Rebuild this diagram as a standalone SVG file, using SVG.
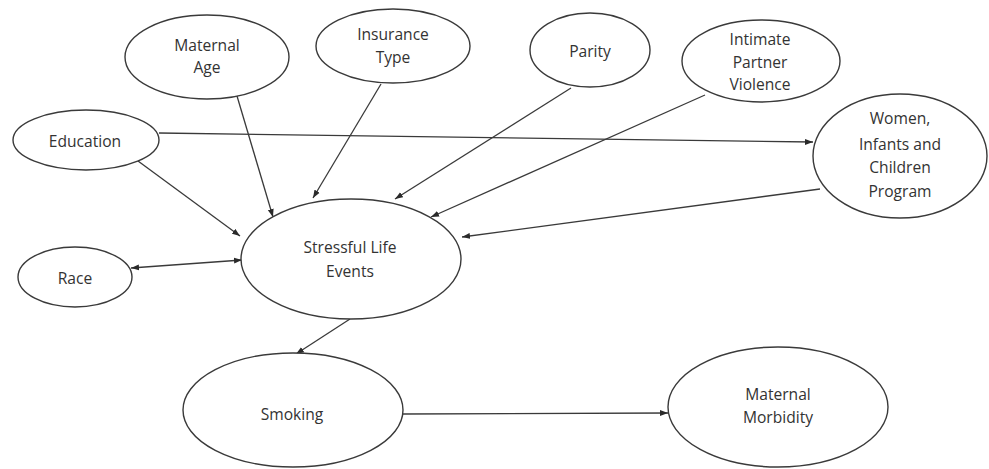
<svg xmlns="http://www.w3.org/2000/svg" width="989" height="469" viewBox="0 0 989 469">
<style>
.n ellipse{fill:#fff;stroke:#3a3a3a;stroke-width:1.4}
.n text{font-family:"Open Sans","Liberation Sans",sans-serif;font-size:15.6px;fill:#333;text-anchor:middle}
#edges line{stroke:#3a3a3a;stroke-width:1.3;fill:none}
</style>
<defs>
<marker id="ah" markerUnits="userSpaceOnUse" markerWidth="9" markerHeight="7" refX="8" refY="3.5" orient="auto-start-reverse">
<path d="M0,0.5 L8,3.5 L0,6.5 Z" fill="#2a2a2a"/>
</marker>
</defs>
<rect width="989" height="469" fill="#fff"/>
<g id="edges">
<line x1="159" y1="133" x2="813" y2="142" marker-end="url(#ah)"/>
<line x1="138" y1="161" x2="240" y2="236" marker-end="url(#ah)"/>
<line x1="237" y1="96" x2="273" y2="217" marker-end="url(#ah)"/>
<line x1="381" y1="84" x2="313" y2="198" marker-end="url(#ah)"/>
<line x1="571" y1="88" x2="395" y2="199" marker-end="url(#ah)"/>
<line x1="705" y1="95" x2="431" y2="217" marker-end="url(#ah)"/>
<line x1="820" y1="189" x2="462" y2="237" marker-end="url(#ah)"/>
<line x1="131" y1="268" x2="242" y2="260" marker-start="url(#ah)" marker-end="url(#ah)"/>
<line x1="350" y1="319" x2="296" y2="354" marker-end="url(#ah)"/>
<line x1="403" y1="414" x2="668" y2="413" marker-end="url(#ah)"/>
</g>
<g id="maternal-age" class="n"><ellipse cx="207" cy="57" rx="82" ry="42"/><text x="207" y="51">Maternal</text><text x="207" y="73">Age</text></g>
<g id="insurance-type" class="n"><ellipse cx="393" cy="46" rx="77" ry="37"/><text x="393" y="40">Insurance</text><text x="393" y="63">Type</text></g>
<g id="education" class="n"><ellipse cx="86" cy="140" rx="73" ry="30"/><text x="85" y="147">Education</text></g>
<g id="parity" class="n"><ellipse cx="590" cy="50" rx="60" ry="37"/><text x="590" y="57">Parity</text></g>
<g id="ipv" class="n"><ellipse cx="761" cy="61" rx="79" ry="41"/><text x="760" y="45">Intimate</text><text x="760" y="68">Partner</text><text x="760" y="90">Violence</text></g>
<g id="wic" class="n"><ellipse cx="900" cy="156" rx="87" ry="62"/><text x="900" y="124">Women,</text><text x="900" y="150">Infants and</text><text x="900" y="173">Children</text><text x="900" y="197">Program</text></g>
<g id="sle" class="n"><ellipse cx="351" cy="259" rx="110" ry="60"/><text x="350" y="253">Stressful Life</text><text x="350" y="277">Events</text></g>
<g id="race" class="n"><ellipse cx="75" cy="277" rx="57" ry="30"/><text x="75" y="284">Race</text></g>
<g id="smoking" class="n"><ellipse cx="293" cy="410" rx="110" ry="57"/><text x="292" y="420">Smoking</text></g>
<g id="maternal-morbidity" class="n"><ellipse cx="778" cy="407" rx="110" ry="60"/><text x="778" y="400">Maternal</text><text x="778" y="423">Morbidity</text></g>
</svg>
